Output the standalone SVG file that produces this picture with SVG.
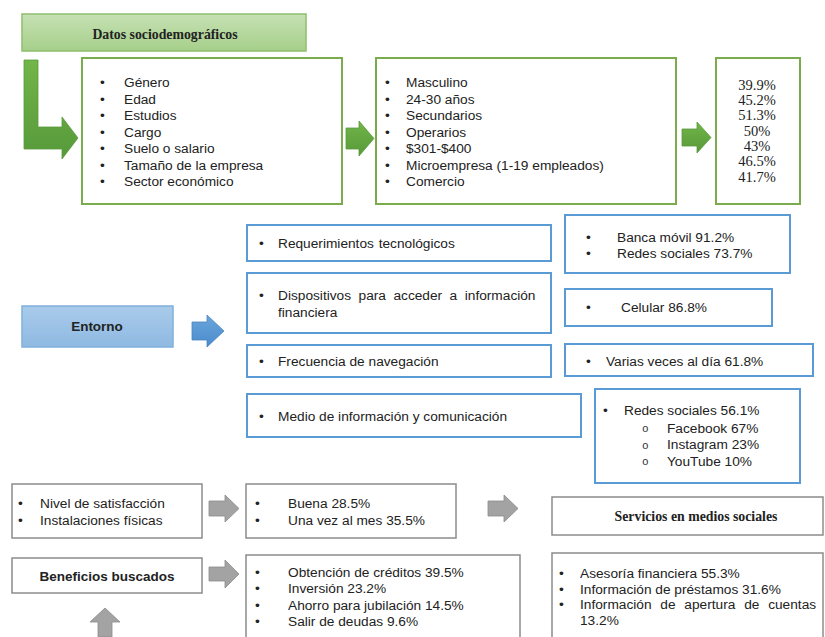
<svg xmlns="http://www.w3.org/2000/svg" width="825" height="637" viewBox="0 0 825 637">
<defs>
<linearGradient id="gHead" x1="0" y1="0" x2="0" y2="1"><stop offset="0" stop-color="#c6e1b4"/><stop offset="1" stop-color="#a6cf8a"/></linearGradient>
<linearGradient id="gBlue" x1="0" y1="0" x2="0" y2="1"><stop offset="0" stop-color="#a9cbea"/><stop offset="1" stop-color="#8fb9e2"/></linearGradient>
<linearGradient id="gArrow" x1="0" y1="0" x2="0" y2="1"><stop offset="0" stop-color="#72b548"/><stop offset="1" stop-color="#56993a"/></linearGradient>
<linearGradient id="bArrow" x1="0" y1="0" x2="0" y2="1"><stop offset="0" stop-color="#6aa6dc"/><stop offset="1" stop-color="#4a8bcc"/></linearGradient>
<style>
.t{font-family:"Liberation Sans",Arial,sans-serif;font-size:13.7px;fill:#222}
.s{font-family:"Liberation Serif","Times New Roman",serif;font-size:14.5px;fill:#222}
.hb{font-family:"Liberation Serif","Times New Roman",serif;font-size:13.8px;font-weight:bold;fill:#222}
.b{font-family:"Liberation Sans",Arial,sans-serif;font-size:13.5px;font-weight:bold;fill:#222}
.o{font-family:"Liberation Mono","Courier New",monospace;font-size:11px;fill:#333}
.gb{fill:#fff;stroke:#7aab4d;stroke-width:2}
.bb{fill:#fff;stroke:#5b9bd5;stroke-width:2}
.kb{fill:#fff;stroke:#8c8c8c;stroke-width:1.5}
.ga{fill:url(#gArrow);stroke:#5a9a3c;stroke-width:0.8}
.ka{fill:#a3a3a3;stroke:#8a8a8a;stroke-width:0.8}
.ba{fill:url(#bArrow);stroke:#4a86c0;stroke-width:0.8}
</style>
</defs>
<rect width="825" height="637" fill="#fff"/>

<g id="connectors">
<path class="ga" d="M24,60 H38 V127 H62 V117 L78,138 L62,159 V149 H24 Z"/>
<path class="ga" d="M346,128 H359 V121 L374,138.5 L359,156 V149 H346 Z"/>
<path class="ga" d="M682,129 H697 V122 L711,137.5 L697,153 V146 H682 Z"/>
<path class="ba" d="M192,322 H207 V315 L224,331 L207,347 V340 H192 Z"/>
<path class="ka" d="M209,501 H225 V495 L239,508.5 L225,522 V516 H209 Z"/>
<path class="ka" d="M488,501 H504 V495 L518,508.5 L504,522 V516 H488 Z"/>
<path class="ka" d="M209,567 H225 V560 L239,574 L225,588 V581 H209 Z"/>
<path class="ka" d="M98,637 V622 H90 L105,608 L120,622 H112 V637 Z"/>
</g>

<g id="header">
<rect x="22" y="14" width="284" height="37" fill="url(#gHead)" stroke="#8fbf6e" stroke-width="1.5"/>
<text class="hb" x="165" y="39" text-anchor="middle">Datos sociodemográficos</text>
</g>

<g id="variables">
<rect class="gb" x="82" y="58" width="260" height="146"/>
<g class="t">
<text x="100" y="87">•</text><text x="124" y="87">Género</text>
<text x="100" y="103.5">•</text><text x="124" y="103.5">Edad</text>
<text x="100" y="120">•</text><text x="124" y="120">Estudios</text>
<text x="100" y="136.5">•</text><text x="124" y="136.5">Cargo</text>
<text x="100" y="153">•</text><text x="124" y="153">Suelo o salario</text>
<text x="100" y="169.5">•</text><text x="124" y="169.5">Tamaño de la empresa</text>
<text x="100" y="186">•</text><text x="124" y="186">Sector económico</text>
</g>
</g>

<g id="valores">
<rect class="gb" x="376" y="58" width="300" height="146"/>
<g class="t">
<text x="385" y="87">•</text><text x="406" y="87">Masculino</text>
<text x="385" y="103.5">•</text><text x="406" y="103.5">24-30 años</text>
<text x="385" y="120">•</text><text x="406" y="120">Secundarios</text>
<text x="385" y="136.5">•</text><text x="406" y="136.5">Operarios</text>
<text x="385" y="153">•</text><text x="406" y="153">$301-$400</text>
<text x="385" y="169.5">•</text><text x="406" y="169.5">Microempresa (1-19 empleados)</text>
<text x="385" y="186">•</text><text x="406" y="186">Comercio</text>
</g>
</g>

<g id="porcentajes">
<rect class="gb" x="716" y="58" width="84" height="146"/>
<g class="s" text-anchor="middle">
<text x="757" y="89.5">39.9%</text>
<text x="757" y="104.5">45.2%</text>
<text x="757" y="120">51.3%</text>
<text x="757" y="135.5">50%</text>
<text x="757" y="150.5">43%</text>
<text x="757" y="166">46.5%</text>
<text x="757" y="181.5">41.7%</text>
</g>
</g>

<g id="entorno">
<rect x="22" y="306" width="151" height="41" fill="url(#gBlue)" stroke="#7fb0dc" stroke-width="1.5"/>
<text class="b" x="97" y="331" text-anchor="middle">Entorno</text>
</g>

<g id="req">
<rect class="bb" x="247" y="225" width="304" height="36"/>
<text class="t" x="259" y="247.5">•</text><text class="t" x="278" y="247.5" word-spacing="1">Requerimientos  tecnológicos</text>
</g>
<g id="disp">
<rect class="bb" x="247" y="273" width="304" height="60"/>
<text class="t" x="259" y="300">•</text><text class="t" x="278" y="300" word-spacing="3.7">Dispositivos para acceder a información</text>
<text class="t" x="278" y="317">financiera</text>
</g>
<g id="frec">
<rect class="bb" x="247" y="345" width="304" height="32"/>
<text class="t" x="259" y="365.5">•</text><text class="t" x="278" y="365.5">Frecuencia de navegación</text>
</g>
<g id="medio">
<rect class="bb" x="247" y="394" width="334" height="43"/>
<text class="t" x="259" y="420.5">•</text><text class="t" x="278" y="420.5">Medio de información y comunicación</text>
</g>

<g id="banca">
<rect class="bb" x="565" y="215" width="225" height="58"/>
<text class="t" x="586" y="241.5">•</text><text class="t" x="617" y="241.5">Banca móvil 91.2%</text>
<text class="t" x="586" y="257.5">•</text><text class="t" x="617" y="257.5">Redes sociales 73.7%</text>
</g>
<g id="celular">
<rect class="bb" x="565" y="289" width="207" height="37"/>
<text class="t" x="586" y="311.5">•</text><text class="t" x="621" y="311.5">Celular 86.8%</text>
</g>
<g id="varias">
<rect class="bb" x="565" y="344" width="248" height="32"/>
<text class="t" x="586" y="365.5">•</text><text class="t" x="606" y="365.5">Varias veces al día 61.8%</text>
</g>
<g id="redes">
<rect class="bb" x="595" y="389" width="205" height="94"/>
<text class="t" x="603" y="414.5">•</text><text class="t" x="624" y="414.5">Redes sociales 56.1%</text>
<text class="o" x="642" y="432">o</text><text class="t" x="667" y="432.5">Facebook 67%</text>
<text class="o" x="642" y="448.5">o</text><text class="t" x="667" y="449">Instagram 23%</text>
<text class="o" x="642" y="465">o</text><text class="t" x="667" y="465.5">YouTube 10%</text>
</g>

<g id="satisfaccion">
<rect class="kb" x="12" y="484" width="190" height="54"/>
<text class="t" x="18" y="507.5">•</text><text class="t" x="40" y="507.5">Nivel de satisfacción</text>
<text class="t" x="18" y="524.5">•</text><text class="t" x="40" y="524.5">Instalaciones físicas</text>
</g>
<g id="buena">
<rect class="kb" x="246" y="484" width="210" height="54"/>
<text class="t" x="255" y="508">•</text><text class="t" x="288" y="508">Buena 28.5%</text>
<text class="t" x="255" y="525">•</text><text class="t" x="288" y="525">Una vez al mes 35.5%</text>
</g>
<g id="servicios">
<rect class="kb" x="552" y="497" width="271" height="38"/>
<text class="hb" x="696" y="520.5" text-anchor="middle">Servicios en medios sociales</text>
</g>
<g id="beneficios">
<rect class="kb" x="12" y="558" width="190" height="35"/>
<text class="b" x="107" y="581" text-anchor="middle">Beneficios buscados</text>
</g>
<g id="creditos">
<rect class="kb" x="246" y="555" width="274" height="90"/>
<text class="t" x="255" y="576.5">•</text><text class="t" x="288" y="576.5">Obtención de créditos 39.5%</text>
<text class="t" x="255" y="593">•</text><text class="t" x="288" y="593">Inversión 23.2%</text>
<text class="t" x="255" y="609.5">•</text><text class="t" x="288" y="609.5">Ahorro para jubilación 14.5%</text>
<text class="t" x="255" y="626">•</text><text class="t" x="288" y="626">Salir de deudas 9.6%</text>
</g>
<g id="asesoria">
<rect class="kb" x="552" y="553" width="271" height="92"/>
<text class="t" x="559" y="577.5">•</text><text class="t" x="580" y="577.5">Asesoría financiera 55.3%</text>
<text class="t" x="559" y="593.5">•</text><text class="t" x="580" y="593.5">Información de préstamos 31.6%</text>
<text class="t" x="559" y="609">•</text><text class="t" x="580" y="609" word-spacing="5">Información de apertura de cuentas</text>
<text class="t" x="580" y="625">13.2%</text>
</g>
</svg>
